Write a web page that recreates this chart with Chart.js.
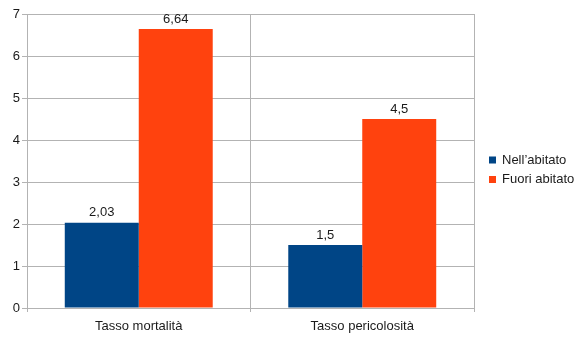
<!DOCTYPE html>
<html>
<head>
<meta charset="utf-8">
<script src="https://cdn.jsdelivr.net/npm/chart.js@4/dist/chart.umd.min.js"></script>
<style>
  html, body { margin: 0; padding: 0; background: #fff; }
  #wrap { width: 583px; height: 340px; position: relative; }
</style>
</head>
<body>
<div id="wrap"><canvas id="c" width="583" height="340"></canvas></div>
<script>
const categories = ['Tasso mortalità', 'Tasso pericolosità'];
const seriesNames = ['Nell’abitato', 'Fuori abitato'];
const nellAbitato = [2.03, 1.5];
const fuoriAbitato = [6.64, 4.5];
const yTicks = [0, 1, 2, 3, 4, 5, 6, 7];
const seriesColors = ['#004586', '#ff420e'];

const FONT = '"Liberation Sans", Arial, sans-serif';
const TEXT = '#1a1a1a';
const GRID = '#b3b3b3';

const fmt = v => String(v).replace('.', ',');

// Value labels over each bar, Italian decimal comma
const valueLabels = {
  id: 'valueLabels',
  afterDatasetsDraw(chart) {
    const ctx = chart.ctx;
    ctx.save();
    ctx.font = '13px ' + FONT;
    ctx.fillStyle = TEXT;
    ctx.textAlign = 'center';
    ctx.textBaseline = 'middle';
    chart.data.datasets.forEach((ds, i) => {
      chart.getDatasetMeta(i).data.forEach((bar, j) => {
        ctx.fillText(fmt(ds.data[j]), bar.x, bar.y - 10);
      });
    });
    ctx.restore();
  }
};

// Legend at the right, small square swatches
const sideLegend = {
  id: 'sideLegend',
  afterDraw(chart) {
    const ctx = chart.ctx;
    ctx.save();
    ctx.font = '13px ' + FONT;
    ctx.textBaseline = 'middle';
    ctx.textAlign = 'left';
    chart.data.datasets.forEach((ds, i) => {
      const cy = 160 + i * 19.5;
      ctx.fillStyle = ds.backgroundColor;
      ctx.fillRect(489, cy - 3.5, 7, 7);
      ctx.fillStyle = TEXT;
      ctx.fillText(ds.label, 502, cy);
    });
    ctx.restore();
  }
};

new Chart(document.getElementById('c'), {
  type: 'bar',
  data: {
    labels: categories,
    datasets: [
      { label: seriesNames[0], data: nellAbitato, backgroundColor: seriesColors[0] },
      { label: seriesNames[1], data: fuoriAbitato, backgroundColor: seriesColors[1] }
    ]
  },
  options: {
    responsive: false,
    animation: false,
    devicePixelRatio: 1,
    layout: { padding: { left: 0, right: 109, top: 14, bottom: 0 } },
    datasets: { bar: { categoryPercentage: 0.662, barPercentage: 1.0, borderWidth: 0 } },
    plugins: {
      legend: { display: false },
      tooltip: { enabled: false }
    },
    scales: {
      x: {
        grid: { color: GRID, lineWidth: 1, offset: true, tickLength: 4, drawTicks: true },
        border: { color: GRID },
        ticks: { color: TEXT, font: { family: FONT, size: 13 }, padding: 7 },
        afterFit(s) { s.height = 32; }
      },
      y: {
        min: 0, max: 7,
        afterBuildTicks(s) { s.ticks = yTicks.map(v => ({ value: v })); },
        grid: { color: GRID, lineWidth: 1, tickLength: 5 },
        border: { color: GRID },
        ticks: { color: TEXT, font: { family: FONT, size: 13 }, padding: 2 },
        afterFit(s) { s.width = 27; }
      }
    }
  },
  plugins: [valueLabels, sideLegend]
});
</script>
</body>
</html>
